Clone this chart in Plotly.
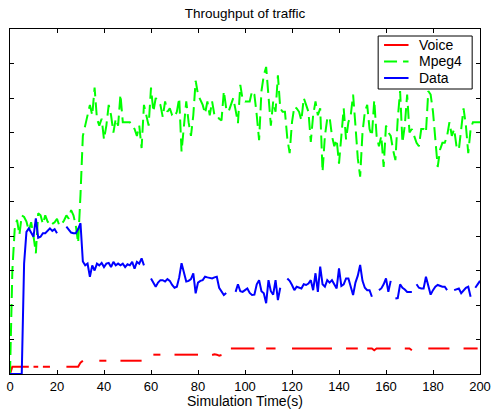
import plotly.graph_objects as go

time_s = list(range(201))

voice = (
    [0.0] + [0.21] * 8 + [None] + [0.21] * 3 + [None] + [0.21] * 4 + [None] * 6
    + [0.21] * 6 + [0.33, 0.385] + [None] * 6 + [0.385] * 4 + [None] * 5
    + [0.385] * 7 + [0.37, 0.385, 0.385] + [None] * 4 + [0.56] * 4 + [None] * 5
    + [0.56] * 11 + [None] * 5 + [0.55, 0.57, 0.56, 0.53, 0.55] + [None] * 3
    + [0.74] * 11 + [None] * 4 + [0.74] * 5 + [None] * 6 + [0.74] * 18
    + [None] * 5 + [0.74] * 6 + [None] * 3 + [0.74, 0.74, 0.74, 0.69] + [0.74] * 7
    + [None] * 5 + [0.74, 0.74, 0.74, 0.69] + [None] * 6 + [0.74] * 10
    + [None] * 5 + [0.74] * 7 + [None]
)

mpeg4 = [
    0.0, 3.0, 4.2, 4.47, 4.03, 4.6, 4.55, 4.42, 4.15, 4.4,
    4.0, 3.5, 4.66, 4.6, 4.35, 4.6, 4.42, 4.3, 4.35, 4.4,
    4.5, 4.3, 4.35, 4.45, 4.6, 4.5, 4.75, 4.6, 4.3, 3.8,
    5.2, 6.9, 7.2, 7.5, 7.8, 7.5, 8.3, 7.4, 7.2, 7.4,
    6.8, 7.2, 7.8, 7.5, 7.0, 7.4, 7.2, 8.1, 7.3, 7.3,
    7.3, 7.3, 7.2, 7.1, 6.9, 7.2, 6.55, 7.8, 7.5, 7.2,
    8.3, 7.6, 8.0, 7.9, 7.8, 7.45, 7.9, 7.6, 7.7, 7.5,
    7.45, 7.6, 8.0, 6.45, 7.2, 7.9, 7.3, 6.9, 7.5, 8.5,
    8.1, 7.95, 7.8, 7.55, 7.9, 7.5, 7.9, 7.5, 7.5, 7.4,
    7.35, 8.2, 7.7, 7.6, 7.8, 8.0, 7.65, 7.27, 8.38, 7.95,
    7.9, 7.9, 7.9, 8.2, 8.1, 7.5, 6.78, 8.2, 8.66, 8.9,
    7.95, 7.2, 7.9, 7.6, 8.66, 7.7, 7.6, 7.6, 6.83, 6.4,
    7.3, 7.75, 7.7, 7.6, 7.35, 8.0, 7.8, 7.6, 6.73, 7.5,
    7.9, 7.5, 7.7, 5.86, 6.9, 7.4, 7.45, 6.9, 6.6, 6.8,
    6.1, 7.0, 7.7, 6.8, 7.3, 7.5, 8.1, 7.2, 6.25, 5.72,
    7.0, 7.6, 7.8, 7.1, 6.9, 7.94, 6.9, 6.6, 6.9, 6.0,
    7.2, 7.0, 6.9, 6.5, 6.2, 7.4, 8.2, 6.7, 7.2, 8.1,
    7.0, 7.1, 6.9, 6.7, 6.6, 7.1, 7.1, 7.0, 8.2, 8.1,
    7.6, 6.8, 6.0, 6.5, 6.7, 6.7, 6.9, 7.3, 6.9, 7.1,
    6.6, 6.5, 7.1, 7.7, 7.2, 6.4, 7.1, 7.3, 7.3, 7.3,
    7.3,
]

data = [
    0.0, 0.0, 0.0, 0.0, 0.0, 0.0, 3.2, 4.12, 4.22, 4.1,
    3.98, 4.51, 3.95, 3.98, 4.08, 4.08, 4.15, 4.22, 4.15, 4.2,
    4.08, None, None, None, 4.27, 4.2, 4.1, 4.08, 4.08, 4.2,
    4.37, 3.26, 3.15, 3.2, 2.82, 3.15, 3.0, 3.2, 3.15, 3.22,
    3.1, 3.2, 3.22, 3.1, 3.25, 3.15, 3.2, 3.15, 3.2, 3.1,
    3.18, 3.15, 3.25, 3.05, 3.25, 3.2, 3.35, 3.15, None, None,
    2.77, 2.65, 2.53, 2.65, 2.72, 2.72, 2.68, 2.75, 2.7, 2.58,
    2.5, 2.53, 2.8, 3.21, 2.9, 2.68, 2.7, 2.75, 2.92, 2.34,
    2.65, 2.7, 2.72, 2.82, 2.8, 2.78, 2.77, 2.8, 2.82, 2.5,
    2.4, 2.29, 2.35, None, None, None, 2.38, 2.6, 2.4, 2.38,
    2.43, 2.48, 2.35, 2.29, 2.3, 2.6, 2.72, 2.4, 2.34, 2.05,
    2.72, 2.4, 2.3, 2.72, 2.14, 2.5, None, None, 2.77, 2.7,
    2.58, 2.43, 2.53, 2.5, 2.48, 2.6, 2.58, 2.62, 2.72, 2.43,
    2.92, 2.38, 3.11, 2.6, 2.53, 2.72, 2.65, 2.72, 2.6, 2.48,
    3.06, 2.55, 2.6, 2.77, 2.77, 2.5, 2.29, 2.65, 2.85, 3.16,
    2.7, 2.5, 2.43, 2.43, 2.24, None, None, 2.43, 2.48, 2.6,
    2.77, 2.38, 2.7, None, 2.19, 2.2, 2.6, 2.5, 2.45, 2.38,
    2.38, 2.38, None, 2.6, 2.5, 2.48, 2.48, 2.82, 2.55, 2.3,
    2.43, 2.53, 2.58, 2.55, 2.53, 2.53, 2.43, None, None, 2.43,
    2.45, 2.48, 2.34, 2.43, 2.5, 2.53, 2.24, None, 2.5, 2.6,
    2.7,
]

x_ticks = [0, 20, 40, 60, 80, 100, 120, 140, 160, 180, 200]
series_names = ["Voice", "Mpeg4", "Data"]
series_colors = ["#FF0000", "#00FF00", "#0000FF"]
series_dash = ["solid", "13px,6px", "solid"]
series_values = [voice, mpeg4, data]

FONT = "Liberation Sans, Arial, Helvetica, sans-serif"

fig = go.Figure()
for name, vals, col, dsh in zip(series_names, series_values, series_colors, series_dash):
    fig.add_trace(go.Scatter(x=time_s, y=vals, mode="lines", name=name,
                             line=dict(color=col, width=2, dash=dsh)))

# MATLAB-style legend box built from paper-coordinate shapes and text
def px_x(p):
    return (p - 6) / 480.0

def px_y(p):
    return (374 - p) / 345.0

shapes = [dict(type="rect", xref="paper", yref="paper",
               x0=px_x(382), x1=px_x(478), y0=px_y(89), y1=px_y(36),
               line=dict(color="black", width=1), fillcolor="white", layer="above")]
annotations = []
for i, (name, col, dsh) in enumerate(zip(series_names, series_colors, series_dash)):
    yc = 45 + 16.5 * i
    shapes.append(dict(type="line", xref="paper", yref="paper",
                       x0=px_x(388), x1=px_x(413), y0=px_y(yc), y1=px_y(yc),
                       line=dict(color=col, width=2, dash=dsh), layer="above"))
    annotations.append(dict(text=name, xref="paper", yref="paper",
                            x=px_x(422), y=px_y(yc), xanchor="left", yanchor="middle",
                            showarrow=False, font=dict(size=14)))

annotations.append(dict(text="Simulation Time(s)", x=0.5, xref="paper",
                        y=px_y(401), yref="paper", yanchor="middle",
                        showarrow=False, font=dict(size=14)))

fig.update_layout(
    width=497, height=412, autosize=False,
    margin=dict(l=6, r=11, t=29, b=38),
    paper_bgcolor="white", plot_bgcolor="white",
    font=dict(family=FONT, size=13, color="black"),
    title=dict(text="Throughput of traffic", x=0.5, xref="paper",
               y=1 - 13 / 412, yref="container", yanchor="middle",
               xanchor="center", font=dict(size=13.5)),
    showlegend=False,
    hovermode=False,
    xaxis=dict(range=[0, 200], tickvals=x_ticks, ticks="inside", ticklen=4,
               tickcolor="black", showline=True, linecolor="black", linewidth=1,
               mirror="ticks", showgrid=False, zeroline=False,
               tickfont=dict(size=13)),
    yaxis=dict(range=[0, 10], dtick=1, ticks="inside", ticklen=4,
               tickcolor="black", showline=True, linecolor="black", linewidth=1,
               mirror="ticks", showgrid=False, zeroline=False,
               showticklabels=False),
    shapes=shapes,
    annotations=annotations,
)

fig.write_html("out.html",
               config={"displayModeBar": False, "staticPlot": True},
               post_script="document.body.style.margin='0';document.body.style.overflow='hidden';")
